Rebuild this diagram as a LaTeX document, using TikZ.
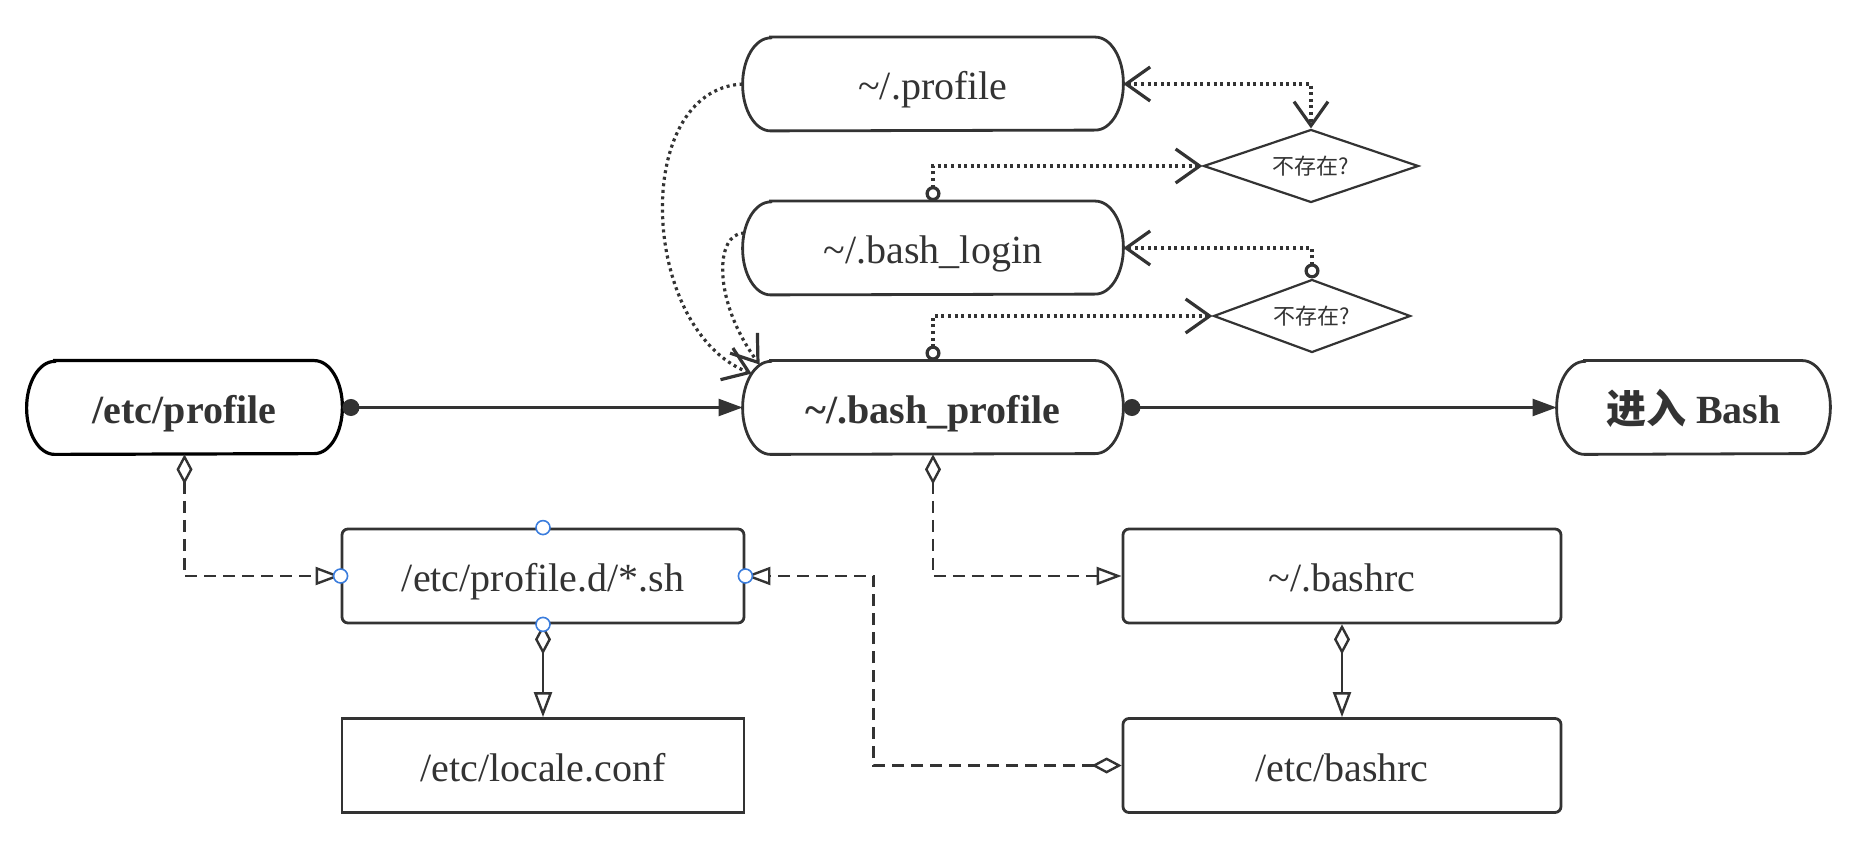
\documentclass[tikz,border=0pt]{standalone}
\usepackage{fontspec}
\setmainfont{Liberation Serif}
\newfontfamily\cjk{Noto Sans CJK SC}
\usetikzlibrary{arrows.meta,shapes.geometric,calc}
\definecolor{ink}{HTML}{333333}
\definecolor{pblue}{HTML}{3B7DDD}
\newcommand\stadiumoutline[2]{%
  \draw[#2] ($(#1.north west)+(28,0)$) -- ($(#1.north east)+(-28,0)$)
    arc[start angle=90,end angle=-90,x radius=14pt,y radius=23.25pt]
    -- ($(#1.south west)+(28,0)$)
    arc[start angle=270,end angle=90,x radius=14pt,y radius=23.25pt] -- cycle;}
\begin{document}
\begin{tikzpicture}[x=0.5pt,y=-0.5pt,
  txt/.style={font=\fontsize{20}{24}\selectfont, text=ink, text height=18pt, text depth=2.5pt},
  stad/.style={txt, inner sep=0pt, minimum height=46.5pt},
  rbox/.style={txt, draw=ink, line width=1.4pt, rounded corners=3pt, minimum width=201pt, minimum height=47pt, inner sep=0pt},
  sbox/.style={txt, draw=ink, line width=1.4pt, minimum width=201pt, minimum height=47pt, inner sep=0pt},
  dia/.style={diamond, aspect=3, draw=ink, line width=1.1pt, inner sep=0pt, font=\cjk\fontsize{11}{13}\selectfont, text=ink},
  outl/.style={draw=ink, line width=1.4pt},
  conn/.style={draw=ink, line width=1.2pt},
  dashline/.style={conn, dash pattern=on 6pt off 3.5pt},
  dotline/.style={conn, line width=1.6pt, dash pattern=on 1.5pt off 1.8pt},
  dotS/.tip={Circle[length=8.5pt]},
  triF/.tip={Triangle[length=12pt,width=8.5pt]},
  diaO/.tip={Diamond[open,fill=white,length=15pt,width=8pt]},
  triO/.tip={Triangle[open,fill=white,length=12.5pt,width=9pt]},
  circO/.tip={Circle[open,fill=white,length=7.5pt]},
  barb/.tip={Straight Barb[length=12pt,width=17pt]},
]
\useasboundingbox (0,0) rectangle (1860,850);

% stadium nodes
\node[stad, minimum width=157.5pt, font=\fontsize{20}{24}\selectfont\bfseries] (etcprof) at (184.5,407.5) {/etc/profile};
\node[stad, minimum width=190pt, font=\fontsize{20}{24}\selectfont\bfseries] (bprof) at (933,407.5) {\textasciitilde/.bash\_profile};
\node[stad, minimum width=136.5pt, font=\fontsize{20}{24}\selectfont\bfseries] (bash) at (1693.5,407.5) {{\cjk 进入} Bash};
\node[stad, minimum width=190pt] (prof) at (933,84) {\textasciitilde/.profile};
\node[stad, minimum width=190pt] (login) at (933,248) {\textasciitilde/.bash\_login};
\stadiumoutline{etcprof}{draw=black, line width=1.6pt}
\stadiumoutline{bprof}{outl}
\stadiumoutline{bash}{outl}
\stadiumoutline{prof}{outl}
\stadiumoutline{login}{outl}

% diamonds
\node[dia, minimum width=107.5pt, minimum height=36.5pt] (d1) at (1311,166) {不存在?};
\node[dia, minimum width=98.5pt, minimum height=36.5pt] (d2) at (1312,316) {不存在?};

% boxes
\node[rbox] (profd) at (543,576) {/etc/profile.d/*.sh};
\node[sbox] (locale) at (543,765.5) {/etc/locale.conf};
\node[rbox, minimum width=219pt] (bashrc) at (1342,576) {\textasciitilde/.bashrc};
\node[rbox, minimum width=219pt] (etcbashrc) at (1342,765.5) {/etc/bashrc};

% solid main flow
\draw[conn, {dotS}-{triF}] (etcprof.east) -- (bprof.west);
\draw[conn, {dotS}-{triF}] (bprof.east) -- (bash.west);

% dashed / solid includes
\draw[dashline, {diaO}-{triO}] (etcprof.south) |- (profd.west);
\draw[conn, {diaO}-{triO}] (profd.south) -- (locale.north);
\draw[dashline, {diaO}-{triO}] (bprof.south) |- (bashrc.west);
\draw[conn, {diaO}-{triO}] (bashrc.south) -- (etcbashrc.north);
\draw[dashline, {diaO}-{triO}] (etcbashrc.west) -- ++(-248,0) |- (profd.east);

% dotted decision lines
\draw[dotline, {circO}-{barb}] (bprof.north) |- (d2.west);
\draw[dotline, {circO}-{barb}] (d2.north) |- (login.east);
\draw[dotline, {circO}-{barb}] (login.north) |- (d1.west);
\draw[dotline, {barb}-{barb}] (prof.east) -| (d1.north);

% dotted curves into bash_profile
\coordinate (c1end) at ($(bprof.north west)+(9,13)$);
\coordinate (c2end) at ($(bprof.north west)+(17,4)$);
\coordinate (c2start) at ($(login.west)+(1.5,-15)$);
\draw[dotline, -{barb}] (prof.west) .. controls (630,90) and (640,330) .. (c1end);
\draw[dotline, -{barb}] (c2start) .. controls (715,233) and (712,300) .. (c2end);

% connection point markers
\foreach \a in {north,south,east,west}
  \draw[pblue, fill=white, line width=0.8pt] (profd.\a) circle[radius=3.5pt];
\end{tikzpicture}
\end{document}
